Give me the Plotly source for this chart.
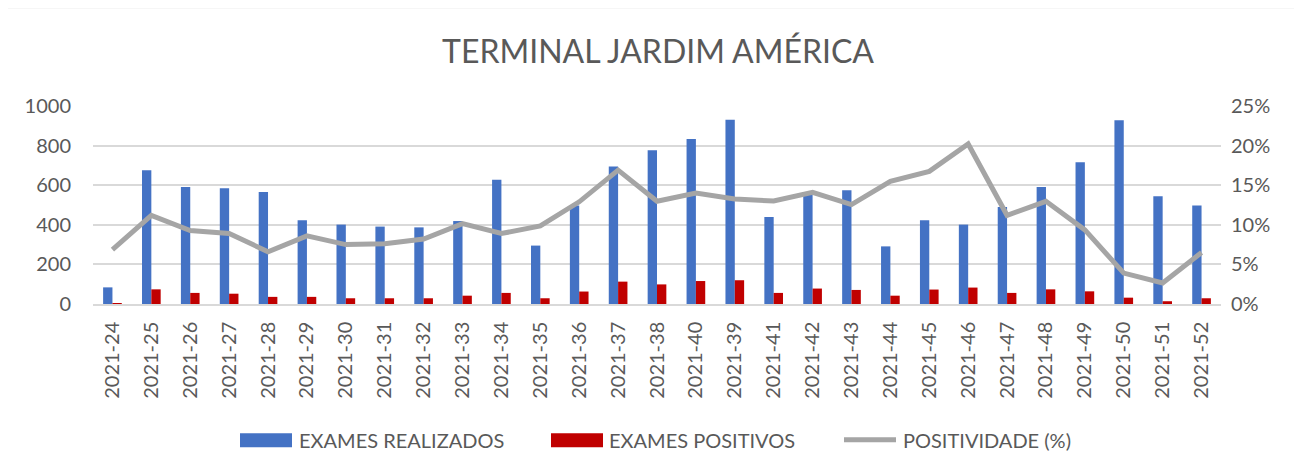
import plotly.graph_objects as go

weeks = ["2021-24", "2021-25", "2021-26", "2021-27", "2021-28", "2021-29", "2021-30",
         "2021-31", "2021-32", "2021-33", "2021-34", "2021-35", "2021-36", "2021-37",
         "2021-38", "2021-40", "2021-39", "2021-41", "2021-42", "2021-43", "2021-44",
         "2021-45", "2021-46", "2021-47", "2021-48", "2021-49", "2021-50", "2021-51",
         "2021-52"]
exames_realizados = [84, 675, 591, 584, 566, 423, 401, 391, 387, 419, 628, 295, 497, 695,
                     776, 833, 931, 439, 550, 574, 291, 423, 401, 490, 591, 716, 928, 544, 498]
exames_positivos = [1, 74, 56, 52, 36, 36, 29, 29, 29, 42, 56, 29, 63, 113,
                    99, 116, 120, 56, 78, 71, 42, 73, 83, 56, 74, 64, 32, 14, 29]
positividade = [0.0687, 0.112, 0.0927, 0.089, 0.066, 0.086, 0.075, 0.076, 0.082, 0.1015,
                0.089, 0.0985, 0.129, 0.169, 0.1297, 0.140, 0.1326, 0.130, 0.141, 0.1255,
                0.155, 0.1675, 0.202, 0.112, 0.1297, 0.0935, 0.039, 0.0265, 0.065]
series_names = ["EXAMES REALIZADOS", "EXAMES POSITIVOS", "POSITIVIDADE (%)"]
series_colors = ["#4472C4", "#C00000", "#A5A5A5"]

FONT = "Lato"
TXT = "#595959"
GRID = "#D9D9D9"

# the page body has an 8px margin; lay the figure out in reference pixels minus 8
OFF = 8
W, H = 1302 - OFF, 472 - OFF
PL, PR, PT, PB = 93, 1221, 105.5, 303.7   # plot area in reference pixels
L = PL - OFF
R = W - (PR - OFF)
T = PT - OFF
B = H - (PB - OFF)
pw, ph = W - L - R, H - T - B


def px_x(p):
    return (p - OFF - L) / pw


def px_y(p):
    return (H - B - (p - OFF)) / ph


fig = go.Figure()
fig.add_trace(go.Bar(x=weeks, y=exames_realizados, name=series_names[0],
                     marker=dict(color=series_colors[0], line=dict(width=0))))
fig.add_trace(go.Bar(x=weeks, y=exames_positivos, name=series_names[1],
                     marker=dict(color=series_colors[1], line=dict(width=0))))
fig.add_trace(go.Scatter(x=weeks, y=positividade, name=series_names[2], yaxis="y2",
                         mode="lines", line=dict(color=series_colors[2], width=5)))

shapes = [dict(type="rect", xref="paper", yref="paper",
               x0=px_x(5), x1=px_x(1300), y0=px_y(490), y1=px_y(7),
               line=dict(color=GRID, width=1.5), fillcolor="rgba(0,0,0,0)", layer="below")]
annotations = []

# manual legend (Excel style)
leg_y0, leg_y1, leg_mid = 433, 447, 439.5
shapes.append(dict(type="rect", xref="paper", yref="paper", x0=px_x(240), x1=px_x(292),
                   y0=px_y(leg_y1), y1=px_y(leg_y0), fillcolor=series_colors[0], line=dict(width=0)))
shapes.append(dict(type="rect", xref="paper", yref="paper", x0=px_x(551), x1=px_x(603),
                   y0=px_y(leg_y1), y1=px_y(leg_y0), fillcolor=series_colors[1], line=dict(width=0)))
shapes.append(dict(type="line", xref="paper", yref="paper", x0=px_x(844), x1=px_x(896),
                   y0=px_y(leg_mid), y1=px_y(leg_mid), line=dict(color=series_colors[2], width=5)))
for name, xs in zip(series_names, [297, 607, 901]):
    annotations.append(dict(text=name, xref="paper", yref="paper", x=px_x(xs), y=px_y(leg_mid),
                            xanchor="left", yanchor="middle", showarrow=False,
                            font=dict(family=FONT, size=20, color=TXT)))

fig.update_layout(
    width=W, height=H,
    margin=dict(l=L, r=R, t=T, b=B, pad=0, autoexpand=False),
    paper_bgcolor="white", plot_bgcolor="white",
    font=dict(family=FONT, color=TXT, size=20),
    title=dict(text="TERMINAL JARDIM AMÉRICA", x=0.5 + 3 / W, xanchor="center",
               y=1 - (52 - OFF) / H, yanchor="middle", yref="container",
               font=dict(family=FONT, size=32, color=TXT)),
    showlegend=False,
    barmode="group", bargap=0.52, bargroupgap=0,
    xaxis=dict(type="category", tickangle=-90, showgrid=False, showline=True,
               linecolor=GRID, linewidth=1.5, ticks="", tickfont=dict(size=20, color=TXT),
               ticklabelstandoff=8),
    yaxis=dict(range=[0, 1000], dtick=200, showgrid=True, gridcolor=GRID, gridwidth=1.5,
               zeroline=False, showline=False, ticks="", tickfont=dict(size=20, color=TXT),
               ticklabelstandoff=21),
    yaxis2=dict(range=[0, 0.25], dtick=0.05, tickformat=".0%", overlaying="y", side="right",
                showgrid=False, zeroline=False, showline=False, ticks="",
                tickfont=dict(size=20, color=TXT), ticklabelstandoff=9),
    shapes=shapes,
    annotations=annotations,
)

fig.write_html("out.html")
